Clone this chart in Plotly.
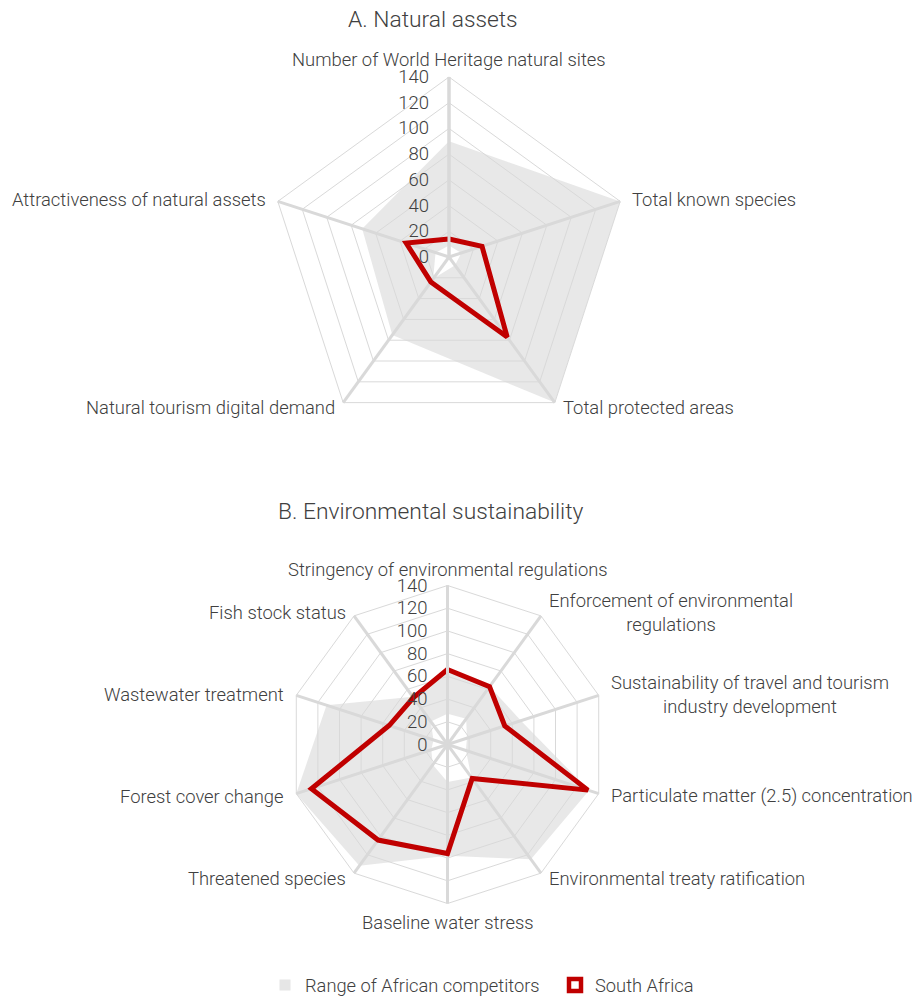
import math
import plotly.graph_objects as go

# ---- Panel A: natural assets (index scale 0-140) ----
natural_categories = [
    "Number of World Heritage natural sites",
    "Total known species",
    "Total protected areas",
    "Natural tourism digital demand",
    "Attractiveness of natural assets",
]
natural_south_africa = [14, 27, 77, 24, 35]
natural_competitors_max = [90, 140, 140, 75, 71]
natural_competitors_min = [9, 10, 8, 21, 11]

# ---- Panel B: environmental sustainability (index scale 0-140) ----
env_categories = [
    "Stringency of environmental regulations",
    "Enforcement of environmental regulations",
    "Sustainability of travel and tourism industry development",
    "Particulate matter (2.5) concentration",
    "Environmental treaty ratification",
    "Baseline water stress",
    "Threatened species",
    "Forest cover change",
    "Wastewater treatment",
    "Fish stock status",
]
env_labels = [
    "Stringency of environmental regulations",
    "Enforcement of environmental<br>regulations",
    "Sustainability of travel and tourism<br>industry development",
    "Particulate matter (2.5) concentration",
    "Environmental treaty ratification",
    "Baseline water stress",
    "Threatened species",
    "Forest cover change",
    "Wastewater treatment",
    "Fish stock status",
]
env_south_africa = [66, 63, 53, 130, 37, 96, 104, 126, 54, 51]
env_competitors_max = [66, 63, 68, 131, 125, 98, 132, 140, 112, 52]
env_competitors_min = [27, 28, 18, 17, 36, 33, 22, 15, 13, 25]

radial_ticks = [0, 20, 40, 60, 80, 100, 120, 140]

GRID = "#d9d9d9"
TEXT = "#404040"
RED = "#c00000"
RANGE_FILL = "rgba(217,217,217,0.6)"
FONT = "Roboto, Lato, sans-serif"
LABEL_SIZE = 18.4
W, H = 913, 999

# pixel geometry of the two radar panels: centre, outer radius, label nudge
PANEL_A = dict(cx=449.0, cy=257.0, R=180.0, dy=0)
PANEL_B = dict(cx=447.5, cy=744.5, R=159.0, dy=1)


def band_path(cats, hi, lo):
    """Closed ring: outer polygon clockwise, inner polygon back the other way,
    so the non-zero fill rule leaves the inner part empty."""
    theta = list(cats) + [cats[0]] + [cats[0]] + list(cats[::-1])
    r = list(hi) + [hi[0]] + [lo[0]] + list(lo[::-1])
    return r, theta


def domain_of(p):
    return dict(x=[(p["cx"] - p["R"]) / W, (p["cx"] + p["R"]) / W],
                y=[1 - (p["cy"] + p["R"]) / H, 1 - (p["cy"] - p["R"]) / H])


def category_labels(labels, p):
    """Category names set just outside each spoke tip."""
    n = len(labels)
    out = []
    for i, txt in enumerate(labels):
        ang = math.radians(90 - i * 360 / n)
        c, s = math.cos(ang), math.sin(ang)
        vx, vy = p["cx"] + p["R"] * c, p["cy"] - p["R"] * s
        if abs(c) < 0.2:
            x, xa = vx, "center"
            if s > 0:
                y, ya = vy - 5 + p["dy"], "bottom"
            else:
                y, ya = vy + 5 + p["dy"], "top"
        else:
            pad = 3.5 + 7 * c * c
            x = vx + pad if c > 0 else vx - pad
            xa = "left" if c > 0 else "right"
            y, ya = vy - 6 * s + p["dy"], "middle"
        out.append(dict(
            text=txt, x=x / W, y=1 - y / H, xref="paper", yref="paper",
            xanchor=xa, yanchor=ya, align="center", showarrow=False,
            font=dict(family=FONT, size=LABEL_SIZE, color=TEXT, weight=300),
        ))
    return out


fig = go.Figure()

for cats, sa, hi, lo, subplot in [
    (natural_categories, natural_south_africa, natural_competitors_max,
     natural_competitors_min, "polar"),
    (env_categories, env_south_africa, env_competitors_max,
     env_competitors_min, "polar2"),
]:
    r_band, th_band = band_path(cats, hi, lo)
    fig.add_trace(go.Scatterpolar(
        r=r_band, theta=th_band, mode="lines", fill="toself",
        fillcolor=RANGE_FILL, line=dict(width=0, color=RANGE_FILL),
        showlegend=False, hoverinfo="skip", subplot=subplot,
    ))
    fig.add_trace(go.Scatterpolar(
        r=list(sa) + [sa[0]], theta=list(cats) + [cats[0]], mode="lines",
        line=dict(color=RED, width=5), showlegend=False, subplot=subplot,
    ))

# legend entries
fig.add_trace(go.Scatterpolar(
    r=[None], theta=[None], mode="markers", name="Range of African competitors",
    marker=dict(symbol="square", size=11, color="#e6e6e6", line=dict(width=0)),
    subplot="polar",
))
fig.add_trace(go.Scatterpolar(
    r=[None], theta=[None], mode="markers", name="South Africa",
    marker=dict(symbol="square", size=12, color="white",
                line=dict(width=4.5, color=RED)),
    subplot="polar",
))


def polar_layout(p, cats):
    return dict(
        domain=domain_of(p),
        gridshape="linear",
        bgcolor="white",
        radialaxis=dict(
            range=[0, 140], tickvals=radial_ticks, angle=90, tickangle=90,
            side="counterclockwise", showline=True, linecolor=GRID, linewidth=3,
            gridcolor=GRID, gridwidth=1, ticks="outside", ticklen=12,
            tickcolor="rgba(0,0,0,0)",
            tickfont=dict(family=FONT, size=18.5, color=TEXT, weight=300),
        ),
        angularaxis=dict(
            type="category", categoryarray=cats, rotation=90,
            direction="clockwise", showline=True, linecolor=GRID, linewidth=1,
            gridcolor=GRID, gridwidth=3, ticks="", showticklabels=False,
        ),
    )


annotations = category_labels(natural_categories, PANEL_A) + \
    category_labels(env_labels, PANEL_B)
annotations += [
    dict(text="A. Natural assets", x=433 / W, y=1 - 20 / H, xref="paper",
         yref="paper", showarrow=False, xanchor="center", yanchor="middle",
         font=dict(family=FONT, size=22.8, color=TEXT, weight=300)),
    dict(text="B. Environmental sustainability", x=431 / W, y=1 - 511 / H,
         xref="paper", yref="paper", showarrow=False, xanchor="center",
         yanchor="middle",
         font=dict(family=FONT, size=22.8, color=TEXT, weight=300)),
]

fig.update_layout(
    width=W, height=H,
    margin=dict(l=0, r=0, t=0, b=0, autoexpand=False),
    paper_bgcolor="white", plot_bgcolor="white",
    font=dict(family=FONT, color=TEXT, weight=300),
    polar=polar_layout(PANEL_A, natural_categories),
    polar2=polar_layout(PANEL_B, env_categories),
    legend=dict(
        orientation="h", x=265 / W, xanchor="left", y=1 - 985 / H,
        yanchor="middle", font=dict(family=FONT, size=18.3, color=TEXT, weight=300),
        itemwidth=30, entrywidth=245, bgcolor="rgba(0,0,0,0)",
    ),
    annotations=annotations,
)

fig.write_html("out.html")
